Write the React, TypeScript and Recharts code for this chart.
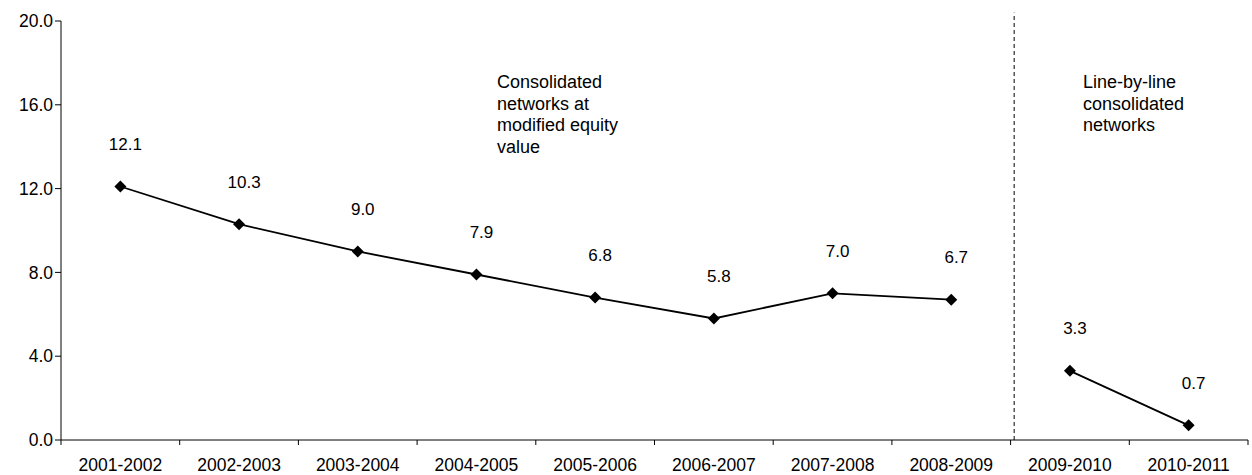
import React from 'react';
import { LineChart, Line, XAxis, YAxis, ReferenceLine, ReferenceDot, LabelList } from 'recharts';

const categories = ['2001-2002', '2002-2003', '2003-2004', '2004-2005', '2005-2006', '2006-2007', '2007-2008', '2008-2009', '2009-2010', '2010-2011'];
const equityValues: (number | null)[] = [12.1, 10.3, 9.0, 7.9, 6.8, 5.8, 7.0, 6.7, null, null];
const lineByLineValues: (number | null)[] = [null, null, null, null, null, null, null, null, 3.3, 0.7];
const yTicks = [0, 4, 8, 12, 16, 20];
const equityNote = ['Consolidated', 'networks at', 'modified equity', 'value'];
const lineByLineNote = ['Line-by-line', 'consolidated', 'networks'];

const W = 1252;
const H = 475;
const MARGIN = { top: 21, right: 4, left: 0, bottom: 5 };
const Y_AXIS_W = 61;
const FONT = '"Liberation Sans", Arial, sans-serif';
const BAND = (W - MARGIN.left - MARGIN.right - Y_AXIS_W) / categories.length;

const data = categories.map((c, i) => ({
  x: i + 0.5,
  period: c,
  equity: equityValues[i],
  lineByLine: lineByLineValues[i],
}));

const boundaryTicks = categories.map((_, i) => i).concat([categories.length]);

const CategoryTick = (props: any) => {
  const { x, y, payload } = props;
  const idx = payload.value;
  if (idx >= categories.length) return null;
  return (
    <text x={x + BAND / 2} y={y + 11} textAnchor="middle" dominantBaseline="hanging" fontSize={17.5} fontFamily={FONT} fill="#000">
      {categories[idx]}
    </text>
  );
};

const Diamond = (props: any) => {
  const { cx, cy, value } = props;
  if (value == null || cx == null || cy == null) return null;
  const s = 6;
  return <polygon points={`${cx},${cy - s} ${cx + s},${cy} ${cx},${cy + s} ${cx - s},${cy}`} fill="#000" />;
};

const ValueLabel = (props: any) => {
  const { x, y, value } = props;
  if (value == null) return null;
  return (
    <text x={x + 5} y={y - 42} textAnchor="middle" dominantBaseline="central" fontSize={17} fontFamily={FONT} fill="#000">
      {Number(value).toFixed(1)}
    </text>
  );
};

const noteShape = (lines: string[]) => (props: any) => {
  const { cx, cy } = props;
  return (
    <text x={cx} y={cy} fontSize={18} fontFamily={FONT} fill="#000">
      {lines.map((l, i) => (
        <tspan key={i} x={cx} dy={i === 0 ? 0 : 21.7}>{l}</tspan>
      ))}
    </text>
  );
};

export default function App() {
  return (
    <div style={{ position: 'absolute', left: 0, top: 0, background: '#fff' }}>
      <LineChart width={W} height={H} data={data} margin={MARGIN}>
        <XAxis
          type="number"
          dataKey="x"
          domain={[0, categories.length]}
          ticks={boundaryTicks}
          interval={0}
          height={30}
          tickSize={5}
          tickLine={{ stroke: '#000' }}
          axisLine={{ stroke: '#000' }}
          tick={<CategoryTick />}
        />
        <YAxis
          width={Y_AXIS_W}
          domain={[0, 20]}
          ticks={yTicks}
          interval={0}
          tickSize={6}
          tickMargin={2}
          tickLine={{ stroke: '#000' }}
          axisLine={{ stroke: '#000' }}
          tickFormatter={(v: number) => v.toFixed(1)}
          tick={{ fontSize: 17.5, fontFamily: FONT, fill: '#000' }}
        />
        <ReferenceLine
          segment={[{ x: 8.03, y: 0 }, { x: 8.03, y: 20.4 }]}
          stroke="#000"
          strokeDasharray="4 3"
          ifOverflow="visible"
        />
        <ReferenceDot x={3.673} y={16.8} r={0} ifOverflow="visible" shape={noteShape(equityNote)} />
        <ReferenceDot x={8.61} y={16.8} r={0} ifOverflow="visible" shape={noteShape(lineByLineNote)} />
        <Line
          type="linear"
          dataKey="equity"
          stroke="#000"
          strokeWidth={1.8}
          dot={<Diamond />}
          activeDot={false}
          connectNulls={false}
          isAnimationActive={false}
        >
          <LabelList dataKey="equity" content={<ValueLabel />} />
        </Line>
        <Line
          type="linear"
          dataKey="lineByLine"
          stroke="#000"
          strokeWidth={1.8}
          dot={<Diamond />}
          activeDot={false}
          connectNulls={false}
          isAnimationActive={false}
        >
          <LabelList dataKey="lineByLine" content={<ValueLabel />} />
        </Line>
      </LineChart>
    </div>
  );
}
